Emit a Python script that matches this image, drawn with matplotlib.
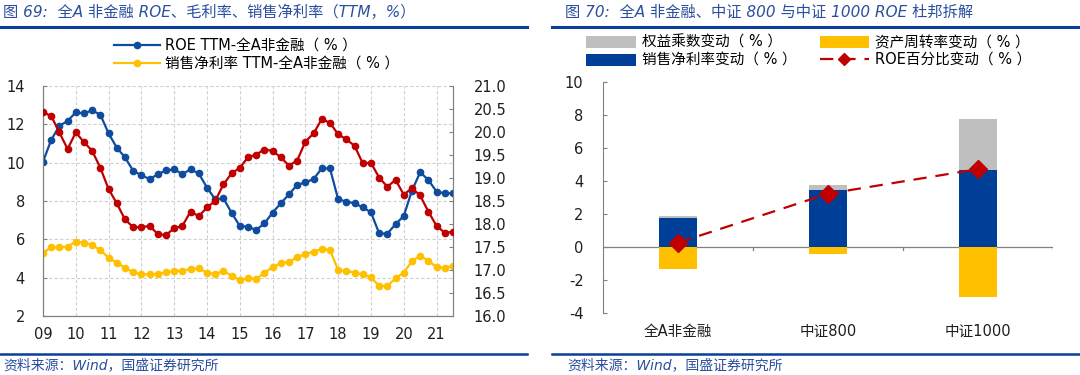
import matplotlib
matplotlib.use("Agg")
import matplotlib.pyplot as plt
from matplotlib.lines import Line2D
import numpy as np

plt.rcParams["font.family"] = ["DejaVu Sans", "Noto Sans CJK SC"]
plt.rcParams["axes.unicode_minus"] = False

# ---- 图69 数据：2009Q1 - 2021Q3 季度 ----
year_labels = ["09", "10", "11", "12", "13", "14", "15", "16", "17", "18", "19", "20", "21"]
roe = [10.05, 11.18, 11.93, 12.17, 12.63, 12.57, 12.73, 12.50, 11.53, 10.78, 10.28, 9.58, 9.34,
       9.15, 9.39, 9.60, 9.65, 9.41, 9.65, 9.44, 8.70, 8.09, 8.14, 7.39, 6.70, 6.66, 6.49, 6.83,
       7.39, 7.88, 8.35, 8.84, 8.97, 9.15, 9.70, 9.70, 8.09, 7.97, 7.88, 7.67, 7.41, 6.31, 6.30,
       6.79, 7.22, 8.54, 9.50, 9.10, 8.49, 8.40, 8.40]
gross = [20.43, 20.35, 19.99, 19.63, 19.99, 19.78, 19.59, 19.22, 18.76, 18.45, 18.10, 17.93,
         17.93, 17.96, 17.78, 17.76, 17.91, 17.96, 18.27, 18.17, 18.36, 18.50, 18.86, 19.10,
         19.22, 19.45, 19.51, 19.62, 19.59, 19.45, 19.27, 19.38, 19.79, 19.97, 20.28, 20.20,
         19.95, 19.84, 19.70, 19.32, 19.33, 19.01, 18.81, 18.96, 18.64, 18.78, 18.62, 18.27,
         17.96, 17.81, 17.83]
net = [5.30, 5.58, 5.58, 5.62, 5.88, 5.83, 5.70, 5.44, 5.04, 4.78, 4.52, 4.28, 4.17, 4.17,
       4.19, 4.28, 4.35, 4.37, 4.45, 4.49, 4.26, 4.19, 4.35, 4.10, 3.88, 3.97, 3.93, 4.26, 4.54,
       4.75, 4.83, 5.06, 5.23, 5.36, 5.50, 5.44, 4.40, 4.37, 4.26, 4.17, 4.02, 3.57, 3.57, 3.97,
       4.26, 4.87, 5.13, 4.89, 4.54, 4.52, 4.61]

# ---- 图70 数据 ----
groups = ["全A非金融", "中证800", "中证1000"]
equity_mult = [0.08, 0.30, 3.12]
asset_turn = [-1.31, -0.44, -3.00]
net_margin = [1.77, 3.45, 4.66]
roe_change = [0.26, 3.23, 4.72]

BLUE = "#0F4C9E"
RED = "#C00000"
YEL = "#FFC000"
GREY = "#BFBFBF"
BARBLUE = "#003F98"
TXT = "#1F1F1F"
HEAD = "#2A4F9F"
LINE = "#0B3F96"
FS = 10.5

fig = plt.figure(figsize=(10.8, 3.75), dpi=100)

# ---------- 左图 ----------
ax = fig.add_axes([0.0398, 0.1573, 0.3796, 0.6133])
x = np.arange(len(roe))
ax.plot(x, roe, color=BLUE, lw=1.6, marker="o", ms=4.5, label="ROE TTM-全A非金融（ % ）", zorder=4)
ax.plot(x, net, color=YEL, lw=1.6, marker="o", ms=4.5, label="销售净利率 TTM-全A非金融（ % ）", zorder=4)
ax.set_xlim(0, len(roe) - 1)
ax.set_ylim(2, 14)
ax.set_yticks(np.arange(2, 15, 2))
ax.set_xticks(np.arange(0, len(roe), 4))
ax.set_xticklabels(year_labels)
ax.grid(True, color="#D0D0D0", ls=(0, (3, 2)), lw=0.8)
ax.set_axisbelow(True)

ax2 = ax.twinx()
ax2.plot(x, gross, color=RED, lw=1.6, marker="o", ms=4.5, zorder=3)
ax2.set_ylim(16, 21)
ax2.set_yticks(np.arange(16, 21.01, 0.5))
ax2.set_yticklabels([f"{v:.1f}" for v in np.arange(16, 21.01, 0.5)])

for a in (ax, ax2):
    a.spines["top"].set_visible(False)
    for s in ("left", "right", "bottom"):
        a.spines[s].set_color("#808080")
    a.tick_params(labelsize=FS, colors=TXT, direction="in", length=3, color="#808080")
ax.tick_params(axis="y", pad=13)
ax.tick_params(axis="x", pad=8, length=0)
ax2.tick_params(axis="y", pad=15)

ax.legend(loc="lower center", bbox_to_anchor=(0.52, 1.04), frameon=False, fontsize=10.5,
          handlelength=3.2, handletextpad=0.3, labelspacing=0.2, borderaxespad=0)

# ---------- 右图 ----------
bx = fig.add_axes([0.5583, 0.1653, 0.4167, 0.616])
gx = np.arange(len(groups))
w = 0.25
b_net = bx.bar(gx, net_margin, width=w, color=BARBLUE, zorder=2)
b_eq = bx.bar(gx, equity_mult, width=w, bottom=net_margin, color=GREY, zorder=2)
b_at = bx.bar(gx, asset_turn, width=w, color=YEL, zorder=2)
l_roe, = bx.plot(gx, roe_change, color=RED, lw=1.6, ls=(0, (6, 4)), marker="D", ms=9, zorder=4)
bx.set_xlim(-0.5, 2.5)
bx.set_ylim(-4, 10)
bx.set_yticks(np.arange(-4, 11, 2))
bx.axhline(0, color="#808080", lw=0.9, zorder=1)
for b in (0.5, 1.5, 2.5):
    bx.plot([b, b], [0, -0.18], color="#808080", lw=0.9, zorder=1)
for s in ("top", "right", "bottom"):
    bx.spines[s].set_visible(False)
bx.spines["left"].set_color("#808080")
bx.set_xticks(gx)
bx.set_xticklabels(groups)
bx.tick_params(axis="x", length=0, pad=8, labelsize=FS, colors=TXT)
bx.tick_params(axis="y", direction="in", length=3, color="#808080", pad=14, labelsize=FS, colors=TXT)

# 图例里的菱形小一点
l_leg = Line2D([], [], color=RED, lw=1.6, ls=(0, (6, 4)), marker="D", ms=6)
bx.legend([b_eq, b_net, b_at, l_leg],
          ["权益乘数变动（ % ）", "销售净利率变动（ % ）", "资产周转率变动（ % ）", "ROE百分比变动（ % ）"],
          ncol=2, loc="lower left", bbox_to_anchor=(-0.05, 1.036), frameon=False, fontsize=10.5,
          handlelength=3.4, handleheight=0.9, handletextpad=0.4, columnspacing=1.6,
          labelspacing=0.2, borderaxespad=0)

# ---------- 标题、来源与分隔线 ----------
fig.text(0.003, 0.968, "图 69:  全A 非金融 ROE、毛利率、销售净利率（TTM，%）", fontsize=11,
         style="italic", color=HEAD, va="center")
fig.text(0.523, 0.968, "图 70:  全A 非金融、中证 800 与中证 1000 ROE 杜邦拆解", fontsize=11,
         style="italic", color=HEAD, va="center")
fig.add_artist(Line2D([0, 0.488], [0.927, 0.927], color=LINE, lw=2.2, transform=fig.transFigure))
fig.add_artist(Line2D([0.511, 1], [0.927, 0.927], color=LINE, lw=2.2, transform=fig.transFigure))
fig.add_artist(Line2D([0, 0.488], [0.056, 0.056], color=LINE, lw=1.8, transform=fig.transFigure))
fig.add_artist(Line2D([0.511, 1], [0.056, 0.056], color=LINE, lw=1.8, transform=fig.transFigure))
fig.text(0.003, 0.027, "资料来源：Wind，国盛证券研究所", fontsize=10, style="italic", color=HEAD, va="center")
fig.text(0.525, 0.027, "资料来源：Wind，国盛证券研究所", fontsize=10, style="italic", color=HEAD, va="center")

fig.savefig("out.png", dpi=100)
